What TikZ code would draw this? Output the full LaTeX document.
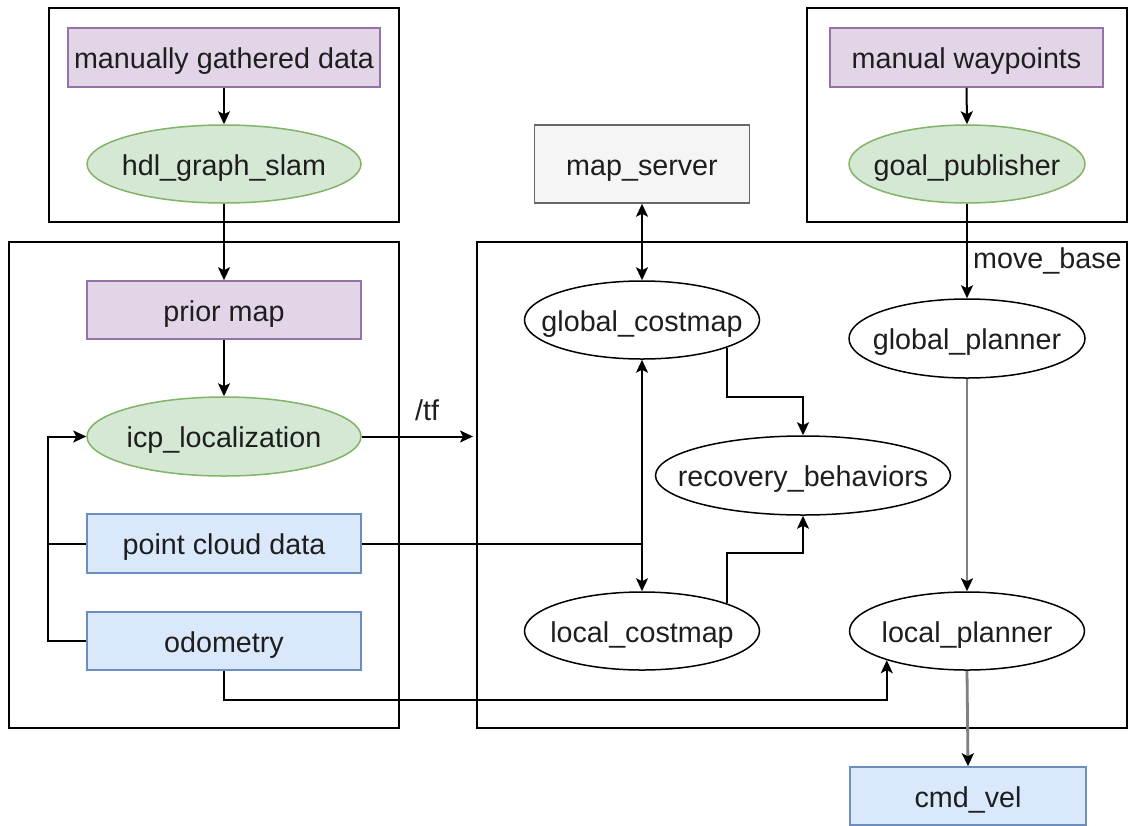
\documentclass[tikz,border=0pt]{standalone}
\usepackage{fontspec}
\setmainfont{Liberation Sans}
\usetikzlibrary{shapes.geometric,arrows.meta}

\definecolor{purplefill}{HTML}{E1D5E7}
\definecolor{purpleline}{HTML}{9673A6}
\definecolor{greenfill}{HTML}{D5E8D4}
\definecolor{greenline}{HTML}{82B366}
\definecolor{bluefill}{HTML}{DAE8FC}
\definecolor{blueline}{HTML}{6C8EBF}
\definecolor{grayfill}{HTML}{F5F5F5}
\definecolor{grayline}{HTML}{666666}
\definecolor{txt}{HTML}{1E1E1E}

% zero-width label so the ellipse keeps its given size
\newcommand{\lbl}[1]{\makebox[0pt]{#1}}

\begin{document}
\begin{tikzpicture}[x=1pt,y=-1pt,
  every node/.style={font=\fontsize{28.7}{34}\selectfont, text=txt},
  base/.style={draw, line width=1.5pt, inner sep=0pt, text height=28pt, text depth=6pt},
  purplebox/.style={base, rectangle, fill=purplefill, draw=purpleline},
  bluebox/.style={base, rectangle, fill=bluefill, draw=blueline},
  graybox/.style={base, rectangle, fill=grayfill, draw=grayline},
  greenell/.style={base, ellipse, fill=greenfill, draw=greenline},
  plainell/.style={base, ellipse, fill=white, draw=black},
  groupbox/.style={draw=black, line width=2pt, rectangle, inner sep=0pt},
  wire/.style={draw=black, line width=2pt},
  tip/.tip={Stealth[length=13pt,width=12pt,inset=3pt]},
  flow/.style={wire, -tip},
  dflow/.style={wire, tip-tip},
  grayflow/.style={draw=black!50, line width=2.8pt, -{Stealth[length=13pt,width=12pt,inset=3pt,color=black]}},
]
\useasboundingbox (0,0) rectangle (1129,825);

% group frames
\node[groupbox, minimum width=350pt, minimum height=214pt] (slamgrp) at (224,115) {};
\node[groupbox, minimum width=390pt, minimum height=486pt] (locgrp) at (204,485) {};
\node[groupbox, minimum width=320pt, minimum height=214pt] (goalgrp) at (967,115) {};
\node[groupbox, minimum width=650pt, minimum height=486pt] (mbgrp) at (802,485) {};

% left column
\node[purplebox, minimum width=312pt, minimum height=59pt] (mgd) at (224,57.5) {manually gathered data};
\node[greenell, minimum width=274pt, minimum height=78pt] (hdl) at (224,164) {\lbl{hdl\_graph\_slam}};
\node[purplebox, minimum width=274pt, minimum height=58pt] (prior) at (224,310) {prior map};
\node[greenell, minimum width=274pt, minimum height=79pt] (icp) at (224,436.5) {\lbl{icp\_localization}};
\node[bluebox, minimum width=274pt, minimum height=59pt] (pcd) at (224,543.5) {point cloud data};
\node[bluebox, minimum width=274pt, minimum height=58pt] (odom) at (224,641) {odometry};

% right side
\node[graybox, minimum width=215pt, minimum height=78pt] (mapsrv) at (642,164) {map\_server};
\node[purplebox, minimum width=273pt, minimum height=59pt] (mwp) at (966.5,57.5) {manual waypoints};
\node[greenell, minimum width=236pt, minimum height=78pt] (goal) at (967,164) {\lbl{goal\_publisher}};
\node[plainell, minimum width=235pt, minimum height=78pt] (gcm) at (642,320) {\lbl{global\_costmap}};
\node[plainell, minimum width=236pt, minimum height=79pt] (gpl) at (967,338.5) {\lbl{global\_planner}};
\node[plainell, minimum width=295pt, minimum height=79pt] (rec) at (803,475.5) {\lbl{recovery\_behaviors}};
\node[plainell, minimum width=235pt, minimum height=78pt] (lcm) at (642,631) {\lbl{local\_costmap}};
\node[plainell, minimum width=235pt, minimum height=78pt] (lpl) at (967,631) {\lbl{local\_planner}};
\node[bluebox, minimum width=236pt, minimum height=58pt] (cmd) at (968,796) {cmd\_vel};

% labels
\node[inner sep=0pt] (tflabel) at (427,410) {/tf};
\node[inner sep=0pt, anchor=west] (mblabel) at (973,261) {move\_base};

% connectors
\coordinate (loopx) at (48,0);
\coordinate (junc) at (gcm.south |- pcd.east);

\draw[flow] (mgd.south) -- (hdl.north);
\draw[flow] (hdl.south) -- (prior.north);
\draw[flow] (prior.south) -- (icp.north);
\draw[flow] (icp.east) -- ([xshift=-3pt]mbgrp.west |- icp.east);
\draw[wire] (odom.west) -- (odom.west -| loopx) -- (pcd.west -| loopx);
\draw[flow] (pcd.west) -- (pcd.west -| loopx) |- (icp.west);

\draw[wire] (pcd.east) -- (junc);
\draw[flow] (junc) -- (gcm.south);
\draw[flow] (junc) -- (lcm.north);
\draw[dflow] (mapsrv.south) -- (gcm.north);
\draw[flow] (gcm.-18.8) -- ++(0,49) -| (rec.north);
\draw[flow] (lcm.18.8) -- ++(0,-50) -| (rec.south);

\draw[flow] (mwp.south) -- (goal.north);
\draw[flow] (goal.south) -- (gpl.north);
\draw[grayflow] (gpl.south) -- (lpl.north);
\draw[grayflow] (lpl.south) -- (cmd.north);
\draw[flow] (odom.south) -- ++(0,29) -| (lpl.-160.7);
\end{tikzpicture}
\end{document}
